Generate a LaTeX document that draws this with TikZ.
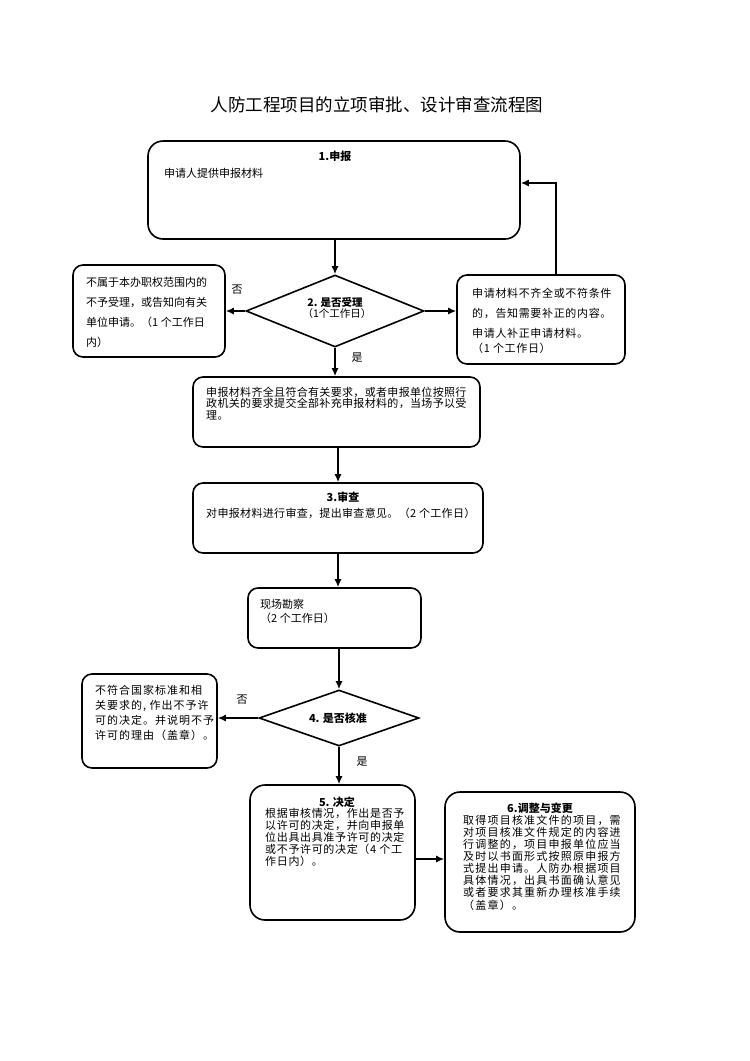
\documentclass[tikz,border=0pt]{standalone}
\usepackage{fontspec}
\setmainfont{Noto Sans CJK SC}
\newfontfamily\lsa[LetterSpace=3]{Noto Sans CJK SC}
\newfontfamily\lsb[LetterSpace=6]{Noto Sans CJK SC}
\newfontfamily\lsc[LetterSpace=9]{Noto Sans CJK SC}
\newfontfamily\lsd[LetterSpace=11]{Noto Sans CJK SC}
\usetikzlibrary{shapes.geometric,arrows.meta}
\begin{document}
\begin{tikzpicture}[x=1pt,y=-1pt,
 box/.style={draw,line width=1.6pt,rounded corners=10pt,inner sep=0pt},
 dia/.style={draw,diamond,line width=1.6pt,inner sep=0pt},
 arr/.style={line width=1.5pt,-{Latex[length=8pt,width=7pt]}},
 txt/.style={inner sep=0pt,anchor=base west,align=left},
 mtxt/.style={inner sep=0pt,anchor=north west,align=left},
 ttl/.style={inner sep=0pt,font=\bfseries\fontsize{11}{13}\selectfont},
 lbl/.style={inner sep=0pt,font=\fontsize{11}{13}\selectfont}]
\useasboundingbox (0,0) rectangle (750,1061);
\node[inner sep=0pt,font=\fontsize{17.5}{20}\selectfont] (title) at (377,105) {人防工程项目的立项审批、设计审查流程图};

% 1
\node[box,rounded corners=15pt,minimum width=372pt,minimum height=98pt] (box1) at (334,190) {};
\node[ttl] (t1) at (335,156) {1.申报};
\node[txt,font=\fontsize{11}{13}\selectfont] (b1) at (164,177) {申请人提供申报材料};

% 2
\node[dia,minimum width=178pt,minimum height=72pt] (d2) at (335,311) {};
\node[ttl,font=\bfseries\fontsize{10.5}{12}\selectfont] (t2) at (335,302) {2. 是否受理};
\node[lbl,font=\fontsize{10.5}{12}\selectfont] (t2b) at (337,314) {（1个工作日）};

\node[box,minimum width=152pt,minimum height=92pt] (n1) at (149,311) {};
\node[mtxt,font=\fontsize{11}{19.7}\selectfont] (n1t) at (86,277.5) {不属于本办职权范围内的\\不予受理，或告知向有关\\单位申请。（1 个工作日\\内）};

\node[box,minimum width=168pt,minimum height=89pt] (n3) at (541,319.5) {};
\node[mtxt,font=\lsb\fontsize{11}{20}\selectfont] (n3t) at (472,287.5) {申请材料不齐全或不符条件\\的，告知需要补正的内容。\\申请人补正申请材料。\\[-5pt]（1 个工作日）};

% accept
\node[box,minimum width=287pt,minimum height=70pt] (box2) at (336.5,412) {};
\node[mtxt,font=\lsa\fontsize{11}{11.7}\selectfont] (b2t) at (206,386.5) {申报材料齐全且符合有关要求，或者申报单位按照行\\政机关的要求提交全部补充申报材料的，当场予以受\\理。};

% 3
\node[box,minimum width=290pt,minimum height=70pt] (box3) at (338,518) {};
\node[ttl] (t3) at (343,497) {3.审查};
\node[txt,font=\lsa\fontsize{11}{13}\selectfont] (b3t) at (206,517) {对申报材料进行审查，提出审查意见。（2 个工作日）};

% site
\node[box,minimum width=173pt,minimum height=60pt] (site) at (334.5,618) {};
\node[mtxt,font=\fontsize{11}{14}\selectfont] (st) at (260,599.5) {现场勘察\\（2 个工作日）};

% 4
\node[dia,minimum width=160pt,minimum height=56pt] (d4) at (339,718) {};
\node[ttl] (t4) at (338,718) {4. 是否核准};
\node[box,minimum width=135pt,minimum height=94pt] (box4) at (149.5,721) {};
\node[mtxt,font=\lsc\fontsize{11}{15}\selectfont] (b4t) at (95,684.5) {不符合国家标准和相\\关要求的, 作出不予许\\可的决定。并说明不予\\许可的理由（盖章）。};

% 5
\node[box,rounded corners=15pt,minimum width=165pt,minimum height=135pt] (box5) at (332.5,852.5) {};
\node[ttl] (t5) at (337,802) {5. 决定};
\node[mtxt,font=\lsb\fontsize{11}{12.2}\selectfont] (b5t) at (265,807.5) {根据审核情况，作出是否予\\以许可的决定，并向申报单\\位出具出具准予许可的决定\\或不予许可的决定（4 个工\\作日内）。};

% 6
\node[box,rounded corners=15pt,minimum width=190pt,minimum height=140pt] (box6) at (540,862) {};
\node[ttl] (t6) at (540,808) {6.调整与变更};
\node[mtxt,font=\lsd\fontsize{11}{12.15}\selectfont] (b6t) at (463,814.5) {取得项目核准文件的项目，需\\对项目核准文件规定的内容进\\行调整的，项目申报单位应当\\及时以书面形式按照原申报方\\式提出申请。人防办根据项目\\具体情况，出具书面确认意见\\或者要求其重新办理核准手续\\（盖章）。};

% labels
\node[lbl] (no1) at (237,290) {否};
\node[lbl] (yes1) at (357,358) {是};
\node[lbl] (no2) at (242,700) {否};
\node[lbl] (yes2) at (362,762) {是};

% connectors
\draw[arr] (box1.south -| d2.north) -- (d2.north);
\draw[arr] (d2.west) -- (d2.west -| n1.east);
\draw[arr] (d2.east) -- (d2.east -| n3.west);
\coordinate (fb) at (556,183);
\draw[arr] (n3.north -| fb) -- (fb) -- (fb -| box1.east);
\draw[arr] (d2.south) -- (d2.south |- box2.north);
\draw[arr] (box3.north |- box2.south) -- (box3.north);
\draw[arr] (box3.south) -- (box3.south |- site.north);
\draw[arr] (d4.north |- site.south) -- (d4.north);
\draw[arr] (d4.west) -- (d4.west -| box4.east);
\draw[arr] (d4.south) -- (d4.south |- box5.north);
\coordinate (m56) at (0,859);
\draw[arr] (box5.east |- m56) -- (box6.west |- m56);
\end{tikzpicture}
\end{document}
